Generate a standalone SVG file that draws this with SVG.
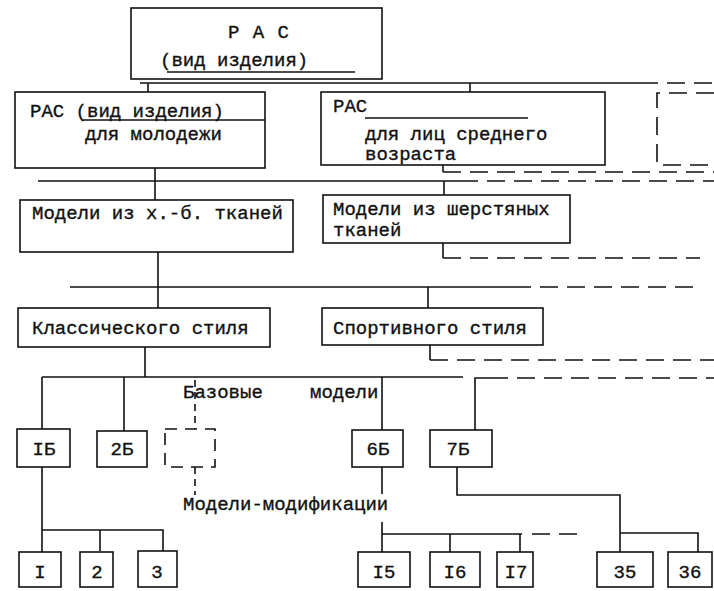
<svg xmlns="http://www.w3.org/2000/svg" width="714" height="591" viewBox="0 0 714 591">
<style>
.b{fill:none;stroke:#111;stroke-width:1.6}
.d{fill:none;stroke:#111;stroke-width:1.6;stroke-dasharray:18 9}
.c{fill:none;stroke:#111;stroke-width:1.6}
text{font-family:"Liberation Mono","DejaVu Sans Mono",monospace;font-size:19px;fill:#111;stroke:#111;stroke-width:0.35}
.m{text-anchor:middle}
</style>
<rect width="714" height="591" fill="#fff"/>
<g id="connectors">
<path class="c" d="M140,83 H640 M148,83 V92 M470,83 V92"/>
<path class="d" d="M640,83 H714"/>
<path class="c" d="M443,165 V172"/>
<path class="d" d="M443,172 H714"/>
<path class="c" d="M38,181 H460 M155,168 V200 M444,181 V195"/>
<path class="d" d="M460,181 H714"/>
<path class="c" d="M443,243 V258"/>
<path class="d" d="M443,258 H700"/>
<path class="c" d="M70,287 H513 M158,252 V308 M428,287 V308"/>
<path class="d" d="M513,287 H700"/>
<path class="c" d="M430,345 V360"/>
<path class="d" d="M430,360 H714"/>
<path class="c" d="M145,347 V377 M42,377 H463 M42,377 V429 M124,377 V431 M382,377 V430"/>
<path class="c" d="M475,430 V378 H490"/>
<path class="d" d="M490,378 H714"/>
<path class="d" d="M195,380 V429 M195,467 V495" style="stroke-dasharray:7 5"/>
<path class="c" d="M382,467 V494 M382,522 V552 M382,534 H522 M450,534 V552 M520,534 V552"/>
<path class="d" d="M532,534 H583"/>
<path class="c" d="M42,467 V552 M42,530 H163 V551 M100,530 V551"/>
<path class="c" d="M457,467 V495 H620 V552 M620,533 H698 V552"/>
</g>
<g id="top">
<rect class="b" x="131" y="8" width="251" height="71"/>
<text x="228" y="38" letter-spacing="1">Р А С</text>
<text x="160" y="66">(вид изделия)</text>
<path class="c" d="M167,72 H355"/>
</g>
<g id="youth">
<rect class="b" x="15" y="92" width="250" height="76"/>
<text x="30" y="117">РАС (вид изделия)</text>
<path class="c" d="M83,120 H265"/>
<text x="85" y="140">для молодежи</text>
</g>
<g id="middle-age">
<rect class="b" x="321" y="92" width="284" height="73"/>
<text x="333" y="112">РАС</text>
<path class="c" d="M365,118 H528"/>
<text x="365" y="140">для лиц среднего</text>
<text x="365" y="160">возраста</text>
</g>
<g id="other">
<path class="d" d="M714,93 H657 V165 H714"/>
</g>
<g id="cotton">
<rect class="b" x="20" y="200" width="273" height="52"/>
<text x="32" y="219">Модели из х.-б. тканей</text>
</g>
<g id="wool">
<rect class="b" x="323" y="195" width="247" height="48"/>
<text x="333" y="215">Модели из шерстяных</text>
<text x="333" y="236">тканей</text>
</g>
<g id="classic">
<rect class="b" x="18" y="308" width="252" height="39"/>
<text x="32" y="334">Классического стиля</text>
</g>
<g id="sport">
<rect class="b" x="322" y="308" width="221" height="37"/>
<text x="333" y="334">Спортивного стиля</text>
</g>
<g id="labels">
<text x="183" y="398">Базовые</text>
<text x="310" y="398">модели</text>
<text x="183" y="510">Модели-модификации</text>
</g>
<g id="b1"><rect class="b" x="17" y="429" width="53" height="38"/><text class="m" x="44" y="455">IБ</text></g>
<g id="b2"><rect class="b" x="97" y="431" width="50" height="36"/><text class="m" x="122" y="455">2Б</text></g>
<g id="bx"><rect class="d" x="165" y="429" width="50" height="38" style="stroke-dasharray:12 8"/></g>
<g id="b6"><rect class="b" x="352" y="430" width="51" height="37"/><text class="m" x="378" y="455">6Б</text></g>
<g id="b7"><rect class="b" x="430" y="430" width="62" height="37"/><text class="m" x="458" y="455">7Б</text></g>
<g id="m1"><rect class="b" x="19" y="552" width="42" height="35"/><text class="m" x="40" y="578">I</text></g>
<g id="m2"><rect class="b" x="80" y="552" width="33" height="35"/><text class="m" x="97" y="578">2</text></g>
<g id="m3"><rect class="b" x="138" y="551" width="39" height="36"/><text class="m" x="157" y="578">3</text></g>
<g id="m15"><rect class="b" x="358" y="552" width="52" height="35"/><text class="m" x="384" y="578">I5</text></g>
<g id="m16"><rect class="b" x="430" y="552" width="50" height="35"/><text class="m" x="455" y="578">I6</text></g>
<g id="m17"><rect class="b" x="497" y="552" width="36" height="35"/><text class="m" x="516" y="578">I7</text></g>
<g id="m35"><rect class="b" x="597" y="552" width="56" height="35"/><text class="m" x="625" y="578">35</text></g>
<g id="m36"><rect class="b" x="668" y="552" width="44" height="35"/><text class="m" x="690" y="578">36</text></g>
</svg>
